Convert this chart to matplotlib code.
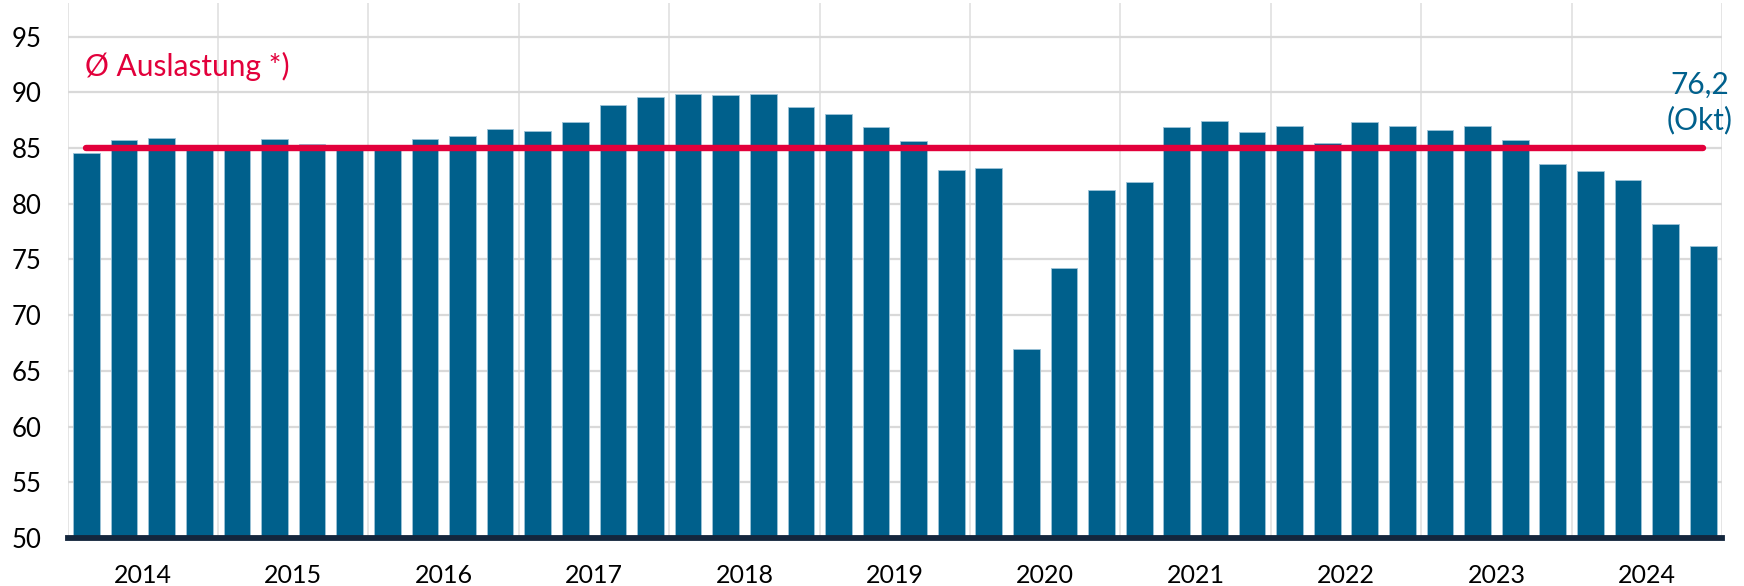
import numpy as np
import matplotlib
matplotlib.use("Agg")
import matplotlib.pyplot as plt

plt.rcParams['font.family'] = ['Lato', 'DejaVu Sans']

# quarterly capacity utilisation, Q1 2014 .. Q4 2024
years = [str(y) for y in range(2014, 2025)]
utilisation = [
    84.6, 85.7, 85.9, 85.3,   # 2014
    85.0, 85.8, 85.4, 85.3,   # 2015
    85.2, 85.8, 86.1, 86.7,   # 2016
    86.5, 87.3, 88.9, 89.6,   # 2017
    89.9, 89.8, 89.9, 88.7,   # 2018
    88.1, 86.9, 85.6, 83.0,   # 2019
    83.2, 67.0, 74.2, 81.2,   # 2020
    82.0, 86.9, 87.4, 86.4,   # 2021
    87.0, 85.5, 87.3, 87.0,   # 2022
    86.6, 87.0, 85.7, 83.6,   # 2023
    82.9, 82.1, 78.2, 76.2,   # 2024
]
average = 85.0
avg_label = "Ø Auslastung *)"
last_label = "76,2\n(Okt)"
y_ticks = list(range(50, 100, 5))

bar_color = '#00608c'
red = '#e2003b'

fig = plt.figure(figsize=(17.44, 5.86), dpi=100)
ax = fig.add_axes([0.0388, 0.082, 0.9486, 0.9124])

x = np.arange(len(utilisation))
ax.bar(x, np.array(utilisation) - 50, bottom=50, width=0.71,
       color=bar_color, edgecolor='#9cc3d8', linewidth=0.6, zorder=2)

# average line from first to last bar
ax.plot([x[0], x[-1]], [average, average], color=red, lw=4.6,
        solid_capstyle='round', zorder=3)
ax.text(x[0] - 0.05, 92.3, avg_label, color=red, fontsize=21.5,
        ha='left', va='center')
ax.text(x[-1] - 0.1, 89.1, last_label, color=bar_color, fontsize=21.5,
        ha='center', va='center', linespacing=1.3)

ax.set_xlim(-0.5, len(utilisation) - 0.5)
ax.set_ylim(50, 98)

# year boundaries as major ticks (grid), year names as minor ticks
ax.set_xticks(np.arange(-0.5, len(utilisation), 4))
ax.set_xticklabels([])
ax.set_xticks(np.arange(1.5, len(utilisation), 4), minor=True)
ax.set_xticklabels(years, minor=True, fontsize=18)
ax.tick_params(axis='x', which='both', length=0, pad=19)

ax.set_yticks(y_ticks)
ax.set_yticklabels([str(v) for v in y_ticks], fontsize=18.5)
ax.tick_params(axis='y', length=0, pad=19)

ax.set_axisbelow(True)
ax.grid(axis='y', color='#d9d9d9', lw=1.6)
ax.grid(axis='x', which='major', color='#e3e3e3', lw=1.3)

for side in ['top', 'right', 'left']:
    ax.spines[side].set_visible(False)
ax.spines['bottom'].set_color('#14263d')
ax.spines['bottom'].set_linewidth(4.2)
ax.spines['bottom'].set_zorder(4)

fig.savefig('out.png', dpi=100)
